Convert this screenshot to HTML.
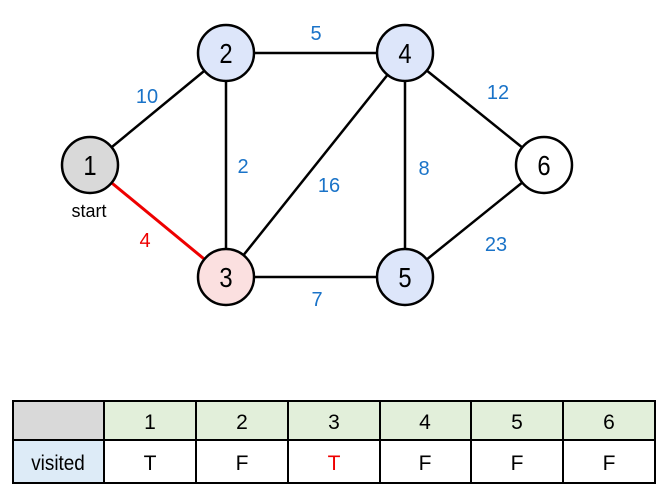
<!DOCTYPE html>
<html><head><meta charset="utf-8"><style>
body{margin:0;background:#fff;width:667px;height:499px;overflow:hidden}
svg{position:absolute;left:0;top:0}
text{font-family:"Liberation Sans",sans-serif}
</style></head><body>
<svg width="667" height="499" viewBox="0 0 667 499">
<g stroke="#000" stroke-width="2.5">
<line x1="90" y1="165" x2="226" y2="53"/>
<line x1="226" y1="53" x2="405" y2="53"/>
<line x1="226" y1="53" x2="226" y2="277"/>
<line x1="226" y1="277" x2="405" y2="53"/>
<line x1="226" y1="277" x2="405" y2="277"/>
<line x1="405" y1="53" x2="405" y2="277"/>
<line x1="405" y1="53" x2="544" y2="165"/>
<line x1="405" y1="277" x2="544" y2="165"/>
</g>
<line x1="90" y1="165" x2="226" y2="277" stroke="#e00" stroke-width="3"/>
<g stroke="#000" stroke-width="2.5">
<circle cx="90" cy="165" r="28" fill="#d9d9d9"/>
<circle cx="226" cy="53" r="28" fill="#dde6fa"/>
<circle cx="226" cy="277" r="28" fill="#fbe0e0"/>
<circle cx="405" cy="53" r="28" fill="#dde6fa"/>
<circle cx="405" cy="277" r="28" fill="#dde6fa"/>
<circle cx="544" cy="165" r="28" fill="#fff"/>
</g>
<g font-size="28" text-anchor="middle" fill="#000">
<text transform="translate(90 175) scale(0.85 1)">1</text>
<text transform="translate(226 63) scale(0.85 1)">2</text>
<text transform="translate(226 287) scale(0.85 1)">3</text>
<text transform="translate(405 63) scale(0.85 1)">4</text>
<text transform="translate(405 287) scale(0.85 1)">5</text>
<text transform="translate(544 175) scale(0.85 1)">6</text>
</g>
<text x="89" y="217" font-size="18" text-anchor="middle">start</text>
<g font-size="20" text-anchor="middle" fill="#1a73c8">
<text x="147" y="103">10</text><text x="316" y="40">5</text><text x="243" y="173">2</text>
<text x="329" y="192">16</text><text x="424" y="175">8</text><text x="498" y="99">12</text>
<text x="496" y="251">23</text><text x="317" y="306">7</text>
</g>
<text x="145" y="247" font-size="20" text-anchor="middle" fill="#e00">4</text>
<g stroke="#000" stroke-width="2">
<rect x="13" y="401" width="91" height="39" fill="#d9d9d9"/>
<rect x="104" y="401" width="551" height="39" fill="#e2efda"/>
<rect x="13" y="440" width="91" height="43" fill="#ddebf7"/>
<rect x="104" y="440" width="551" height="43" fill="#fff"/>
<line x1="196" y1="401" x2="196" y2="483"/><line x1="288" y1="401" x2="288" y2="483"/>
<line x1="380" y1="401" x2="380" y2="483"/><line x1="471" y1="401" x2="471" y2="483"/>
<line x1="563" y1="401" x2="563" y2="483"/>
</g>
<g font-size="21" text-anchor="middle">
<text x="150" y="429">1</text><text x="242" y="429">2</text><text x="334" y="429">3</text>
<text x="425" y="429">4</text><text x="517" y="429">5</text><text x="609" y="429">6</text>
<text transform="translate(58 470) scale(0.9 1)">visited</text>
<text x="150" y="470">T</text><text x="242" y="470">F</text><text x="334" y="470" fill="#e00">T</text>
<text x="425" y="470">F</text><text x="517" y="470">F</text><text x="609" y="470">F</text>
</g>
</svg>
</body></html>
